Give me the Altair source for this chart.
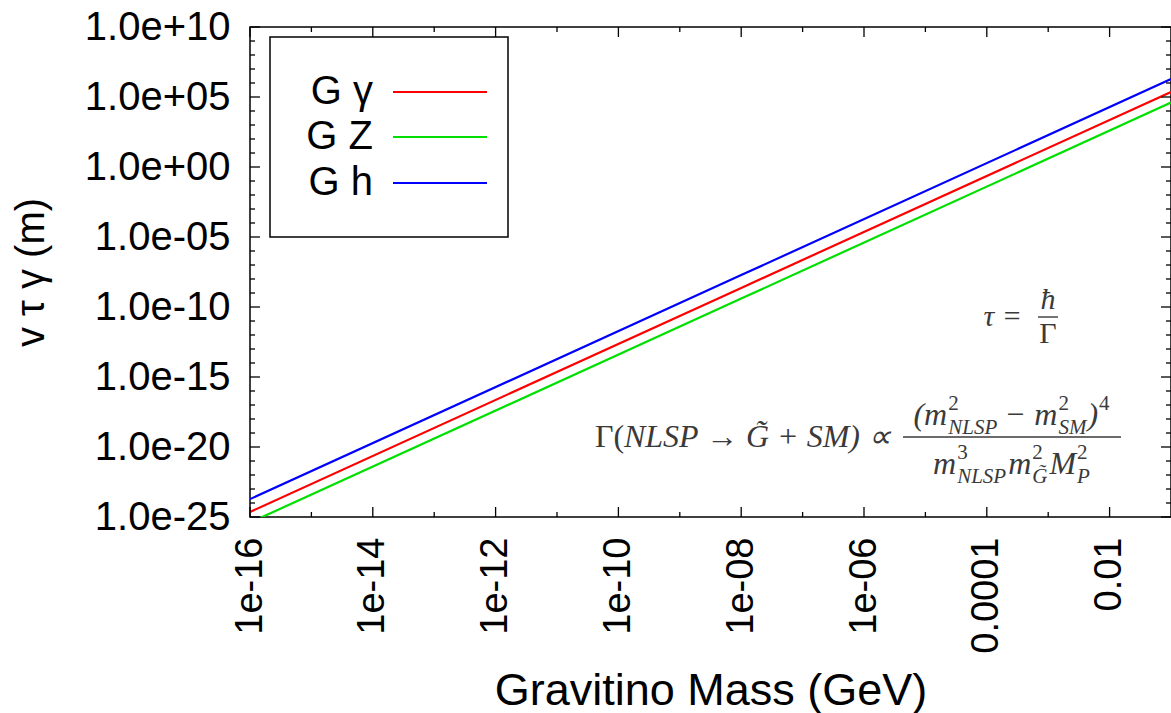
import math
import altair as alt
import pandas as pd

# ---- data ----
masses = [1e-16, 1e-8, 1e-1]
series_names = ["G γ", "G Z", "G h"]
series_colors = ["#ff0000", "#00e000", "#0000ff"]
ctau_gamma = [2.3e-25, 2.3e-9, 2.3e5]
ctau_z = [4.0e-26, 4.0e-10, 4.0e4]
ctau_h = [1.9e-24, 1.9e-8, 1.9e6]

x_major = [1e-16, 1e-14, 1e-12, 1e-10, 1e-8, 1e-6, 1e-4, 1e-2]
x_major_labels = ["1e-16", "1e-14", "1e-12", "1e-10", "1e-08", "1e-06", "0.0001", "0.01"]
x_minor = [1e-15, 1e-13, 1e-11, 1e-9, 1e-7, 1e-5, 1e-3]
y_major = [1e-25, 1e-20, 1e-15, 1e-10, 1e-5, 1e0, 1e5, 1e10]
y_major_labels = ["1.0e-25", "1.0e-20", "1.0e-15", "1.0e-10", "1.0e-05", "1.0e+00", "1.0e+05", "1.0e+10"]
y_minor = [10.0 ** k for k in range(-24, 10) if k % 5 != 0]

W, H = 921, 490
FONT = "Liberation Sans"

rows = []
for name, vals in zip(series_names, [ctau_gamma, ctau_z, ctau_h]):
    for m, v in zip(masses, vals):
        rows.append({"mass": m, "ctau": v, "series": name})
df = pd.DataFrame(rows)


def label_expr(values, labels):
    expr = "''"
    for v, l in reversed(list(zip(values, labels))):
        expr = f"(abs(log(datum.value)/LN10 - ({math.log10(v):.1f})) < 0.1 ? '{l}' : {expr})"
    return expr


xscale = alt.Scale(type="log", domain=[1e-16, 1e-1], nice=False)
yscale = alt.Scale(type="log", domain=[1e-25, 1e10], nice=False)

x_axis = alt.Axis(values=x_major, labelExpr=label_expr(x_major, x_major_labels),
                  labelAngle=270, labelFontSize=38, labelFont=FONT, labelColor="black",
                  labelPadding=20, ticks=False, domain=False, grid=False,
                  title="Gravitino Mass (GeV)", titleFont=FONT, titleFontSize=45,
                  titleFontWeight="normal", titleColor="black",
                  titleX=W / 2, titleY=173, titleBaseline="middle", titleAlign="center")
y_axis = alt.Axis(values=y_major, labelExpr=label_expr(y_major, y_major_labels),
                  labelFontSize=40, labelFont=FONT, labelColor="black", labelPadding=20,
                  ticks=False, domain=False, grid=False,
                  title="v τ γ (m)", titleFont=FONT, titleFontSize=40,
                  titleFontWeight="normal", titleColor="black",
                  titleX=-219, titleY=H / 2, titleBaseline="middle", titleAlign="center")

color = alt.Color("series:N", scale=alt.Scale(domain=series_names, range=series_colors), legend=None)

lines = alt.Chart(df).mark_line(strokeWidth=2.2, clip=True).encode(
    x=alt.X("mass:Q", scale=xscale, axis=x_axis),
    y=alt.Y("ctau:Q", scale=yscale, axis=y_axis),
    color=color,
    detail="series:N",
)

# inward ticks on all four sides
xmaj = pd.DataFrame({"v": x_major})
xmin = pd.DataFrame({"v": x_minor})
ymaj = pd.DataFrame({"v": y_major})
ymin = pd.DataFrame({"v": y_minor})


def xticks(d, length):
    base = alt.Chart(d).mark_rule(color="black", strokeWidth=1.3)
    xx = alt.X("v:Q", scale=xscale, axis=x_axis)
    bot = base.encode(x=xx, y=alt.value(H), y2=alt.value(H - length))
    top = base.encode(x=xx, y=alt.value(0), y2=alt.value(length))
    return bot + top


def yticks(d, length):
    base = alt.Chart(d).mark_rule(color="black", strokeWidth=1.3)
    yy = alt.Y("v:Q", scale=yscale, axis=y_axis)
    left = base.encode(y=yy, x=alt.value(0), x2=alt.value(length))
    right = base.encode(y=yy, x=alt.value(W), x2=alt.value(W - length))
    return left + right


ticks = xticks(xmaj, 10) + xticks(xmin, 5) + yticks(ymaj, 10) + yticks(ymin, 5)

# legend box (top-left), drawn by hand as in the reference
one = pd.DataFrame({"a": [0]})
leg_box = alt.Chart(one).mark_rect(
    fill="white", stroke="black", strokeWidth=1.5
).encode(x=alt.value(20), x2=alt.value(258), y=alt.value(10), y2=alt.value(210))

legend_layers = [leg_box]
row_y = [65, 110, 156]
for name, col, ry in zip(series_names, series_colors, row_y):
    legend_layers.append(
        alt.Chart(pd.DataFrame({"t": [name]})).mark_text(
            align="right", baseline="middle", font=FONT, fontSize=40, color="black"
        ).encode(x=alt.value(123), y=alt.value(ry), text="t:N")
    )
    legend_layers.append(
        alt.Chart(one).mark_rule(strokeWidth=2, color=col).encode(
            x=alt.value(143), x2=alt.value(237), y=alt.value(ry))
    )

# formulas (LaTeX-like, built from pieces)
SERIF = "Liberation Serif"
GREY = "#3a3a3a"
WID = {"(": .333, ")": .333, "m": .722, "N": .667, "L": .556, "S": .5, "P": .611,
       "M": .833, "G": .722, "−": .564, "+": .564, " ": .25, "2": .5, "3": .5, "4": .5,
       "\u0303": 0.0}


def wid(s, size):
    return sum(WID.get(c, .55) for c in s) * size


def txt(s, x, y, size, style="italic", align="left", baseline="alphabetic"):
    return alt.Chart(pd.DataFrame({"t": [s]})).mark_text(
        font=SERIF, fontSize=size, fontStyle=style, color=GREY, align=align, baseline=baseline
    ).encode(x=alt.value(x), y=alt.value(y), text="t:N")


def bar(x1, x2, y):
    return alt.Chart(one).mark_rule(color=GREY, strokeWidth=1.4).encode(
        x=alt.value(x1), x2=alt.value(x2), y=alt.value(y))


def scripted(groups, cx, base_y, S, s):
    # groups: (main text, superscript, subscript, gap after)
    total = sum(wid(m, S) + max(wid(a, s), wid(b, s)) + 2 + g for m, a, b, g in groups)
    x = cx - total / 2
    out = []
    for m, sup, sub, gap in groups:
        if m:
            out.append(txt(m, x, base_y, S, style="normal" if m.strip() == "−" else "italic"))
        x += wid(m, S) + 1
        if sup:
            out.append(txt(sup, x, base_y - 15, s, style="normal"))
        if sub:
            out.append(txt(sub, x, base_y + 9, s))
        x += max(wid(sup, s), wid(sub, s)) + 1 + gap
    return out


S_MAIN, S_SCR = 32, 21
bar_l, bar_r, bar_y = 653, 871, 410          # plot-relative
cx = (bar_l + bar_r) / 2
formula = [
    txt("Γ(", 345, bar_y, S_MAIN, style="normal", baseline="middle"),
    txt("NLSP → G\u0303 + SM) ∝", 641, bar_y, S_MAIN, align="right", baseline="middle"),
    bar(bar_l, bar_r, bar_y),
]
formula += scripted([("(m", "2", "NLSP", 8), ("−", "", "", 8), ("m", "2", "SM", 0), (")", "4", "", 0)],
                    cx, bar_y - 12, S_MAIN, S_SCR)
formula += scripted([("m", "3", "NLSP", 1), ("m", "2", "G\u0303", 1), ("M", "2", "P", 0)],
                    cx, bar_y + 37, S_MAIN, S_SCR)

tau_y = 290
tau = [
    txt("τ =", 772, tau_y, 30, align="right", baseline="middle"),
    txt("ħ", 798, tau_y - 8, 30, align="center"),
    bar(788, 808, tau_y),
    txt("Γ", 798, tau_y + 26, 30, style="normal", align="center"),
]

chart = alt.layer(lines, ticks, *legend_layers, *formula, *tau).properties(
    width=W, height=H,
    autosize=alt.AutoSizeParams(type="none"),
    padding={"left": 250, "top": 27, "right": 0, "bottom": 196},
    background="white",
).configure_view(stroke="black", strokeWidth=1.5)

chart.save("out.html", embed_options={"renderer": "svg", "actions": False})
